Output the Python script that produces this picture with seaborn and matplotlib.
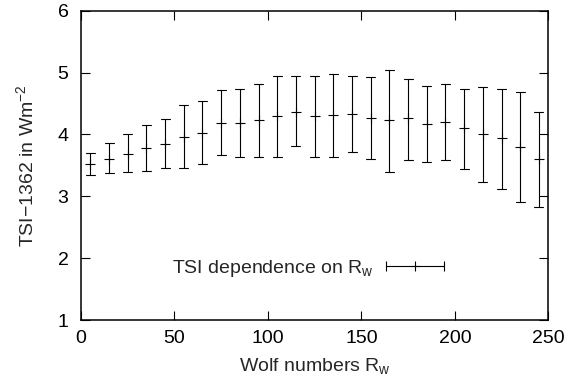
#!/usr/bin/env python3

import numpy as np
import pandas as pd
import matplotlib
matplotlib.use("Agg")
import matplotlib.pylab as plt
from matplotlib.legend_handler import HandlerErrorbar
import seaborn as sns

# Wolf number bins (centres) and TSI-1362 values
wolf = [5, 15, 25, 35, 45, 55, 65, 75, 85, 95, 105, 115, 125,
        135, 145, 155, 165, 175, 185, 195, 205, 215, 225, 235, 245]
tsi_mid = [3.52, 3.61, 3.69, 3.78, 3.85, 3.96, 4.03, 4.19, 4.19, 4.23, 4.29, 4.37, 4.30,
           4.31, 4.33, 4.27, 4.23, 4.26, 4.17, 4.20, 4.10, 4.01, 3.94, 3.80, 3.60]
tsi_low = [3.35, 3.37, 3.39, 3.41, 3.45, 3.45, 3.52, 3.67, 3.64, 3.64, 3.64, 3.81, 3.63,
           3.64, 3.72, 3.60, 3.39, 3.59, 3.55, 3.58, 3.44, 3.23, 3.12, 2.91, 2.82]
tsi_high = [3.70, 3.86, 4.00, 4.15, 4.25, 4.47, 4.54, 4.72, 4.74, 4.81, 4.95, 4.94, 4.95,
            4.97, 4.94, 4.92, 5.04, 4.90, 4.78, 4.82, 4.74, 4.77, 4.74, 4.68, 4.37]

x_ticks = [0, 50, 100, 150, 200, 250]
y_ticks = [1, 2, 3, 4, 5, 6]

sns.set_theme(style="ticks")
plt.rcParams["font.family"] = ["Liberation Sans", "DejaVu Sans"]
plt.rcParams["mathtext.fontset"] = "custom"
plt.rcParams["mathtext.rm"] = "Liberation Sans"
plt.rcParams["mathtext.it"] = "Liberation Sans"

# long form: median -> centre, min/max -> error bar ends
rows = []
for x, lo, mid, hi in zip(wolf, tsi_low, tsi_mid, tsi_high):
    for v in (lo, mid, hi):
        rows.append({"wolf": x, "tsi": v})
df = pd.DataFrame(rows)

fs = 14
fig = plt.figure(figsize=(5.68, 3.81), dpi=100)
ax = fig.add_axes([0.1426, 0.160, 0.8227, 0.812])

sns.pointplot(
    df,
    ax=ax,
    x="wolf",
    y="tsi",
    native_scale=True,
    estimator="median",
    errorbar=("pi", 100),
    linestyle="none",
    marker="+",
    color="black",
    capsize=0.48,
    markersize=7,
    markeredgewidth=0.8,
    err_kws={"linewidth": 0.8},
)

ax.set_xlim(0, 250)
ax.set_ylim(1, 6)
ax.set_xticks(x_ticks)
ax.set_yticks(y_ticks)
ax.set_xticklabels([str(t) for t in x_ticks])
ax.set_yticklabels([str(t) for t in y_ticks])
ax.tick_params(direction="in", length=6.5, width=0.8, top=True, right=True,
               labelsize=fs, colors="black")
ax.tick_params(axis="y", pad=9)
ax.tick_params(axis="x", pad=7)
for s in ax.spines.values():
    s.set_visible(True)
    s.set_linewidth(1.1)
    s.set_color("black")

ax.set_xlabel("Wolf numbers R$_\\mathregular{w}$", fontsize=fs)
ax.set_ylabel("TSI\u22121362 in Wm$^{\\mathregular{-2}}$", fontsize=fs)
ax.xaxis.set_label_coords(0.5, -0.115)
ax.yaxis.set_label_coords(-0.094, 0.5)

# gnuplot-style key: text then a horizontal error bar sample
key = ax.errorbar([np.nan], [np.nan], xerr=[1], fmt="+", color="black",
                  capsize=3.6, markersize=7, markeredgewidth=0.8, elinewidth=0.8)
ax.legend([key], ["TSI dependence on R$_\\mathregular{w}$"], loc="center right",
          bbox_to_anchor=(0.777, 0.167), frameon=False, markerfirst=False,
          fontsize=fs, handlelength=3.0, handletextpad=0.62, borderpad=0,
          borderaxespad=0, handler_map={key: HandlerErrorbar(xerr_size=1.48)})

plt.savefig("out.png", dpi=100)
